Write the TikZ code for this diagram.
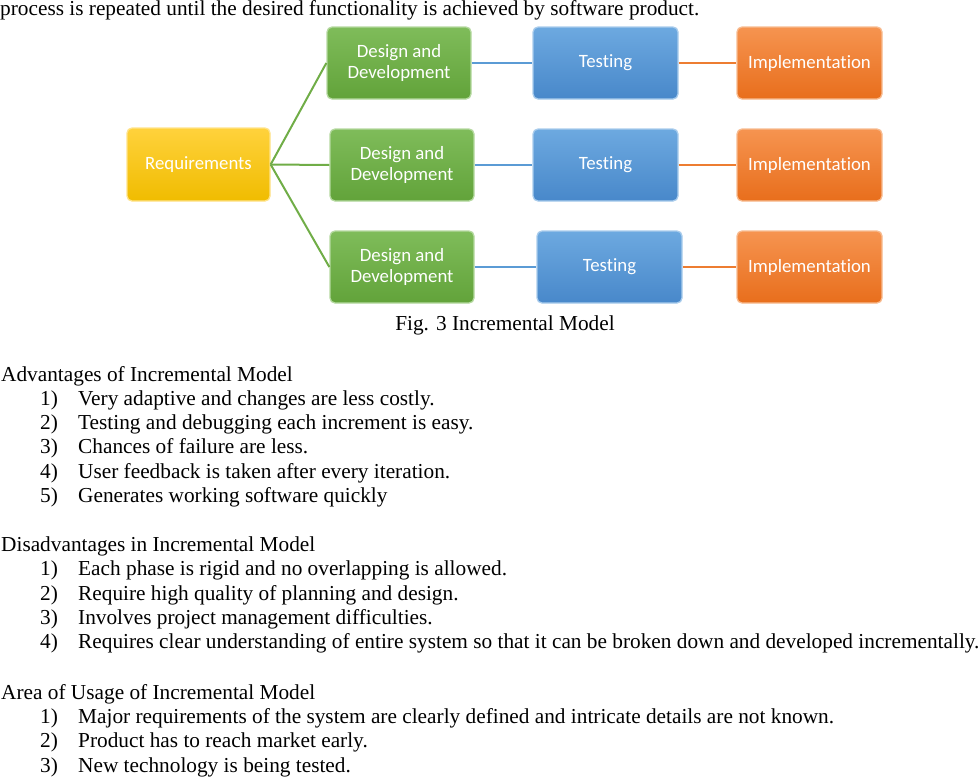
\documentclass[tikz,border=0pt]{standalone}
\usepackage{fontspec}
\setmainfont{Liberation Serif}
\newfontfamily\cajafont[Ligatures=NoCommon]{Carlito}
\definecolor{reqarriba}{HTML}{FFD23C}
\definecolor{reqabajo}{HTML}{F0BC00}
\definecolor{reqborde}{HTML}{FFE38A}
\definecolor{verdearriba}{HTML}{7FBC5A}
\definecolor{verdeabajo}{HTML}{62A33A}
\definecolor{verdeborde}{HTML}{B5D9A0}
\definecolor{azularriba}{HTML}{6DA9E0}
\definecolor{azulabajo}{HTML}{4888CA}
\definecolor{azulborde}{HTML}{A9CCEC}
\definecolor{narajaarriba}{HTML}{F69450}
\definecolor{narajaabajo}{HTML}{E86E1C}
\definecolor{narajaborde}{HTML}{F7BB90}
\definecolor{lineaverde}{HTML}{70AD47}
\definecolor{lineaazul}{HTML}{5B9BD5}
\definecolor{lineanaraja}{HTML}{ED7D31}
\begin{document}
\begin{tikzpicture}[x=1pt,y=-1pt,
	caja/.style={rounded corners=5pt, minimum width=144pt, minimum height=72pt, align=center, text=white, inner sep=2pt, line width=1.3pt, font=\cajafont\fontsize{18.8}{21.5}\selectfont},
	requisito/.style={caja, minimum width=143pt, minimum height=73pt, top color=reqarriba, bottom color=reqabajo, draw=reqborde},
	diseno/.style={caja, top color=verdearriba, bottom color=verdeabajo, draw=verdeborde},
	prueba/.style={caja, minimum width=145pt, top color=azularriba, bottom color=azulabajo, draw=azulborde},
	implem/.style={caja, minimum width=145pt, top color=narajaarriba, bottom color=narajaabajo, draw=narajaborde},
	texto/.style={anchor=base west, inner sep=0pt, font=\fontsize{21.3}{24}\selectfont}]
			\useasboundingbox (0,0) rectangle (980,777);
			
			% Texto de arriba
			\node[texto] (previo) at (0,15) {process is repeated until the desired functionality is achieved by software product.};
			
			% Cajas
			\node[requisito] (req) at (198.5,164.5) {Requirements};
			
			\node[diseno] (dis1) at (399,63) {Design and\\Development};
			\node[diseno] (dis2) at (402,165) {Design and\\Development};
			\node[diseno] (dis3) at (402,267) {Design and\\Development};
			
			\node[prueba] (prue1) at (605.5,63) {Testing};
			\node[prueba] (prue2) at (605.5,165) {Testing};
			\node[prueba] (prue3) at (609.5,267) {Testing};
			
			\node[implem] (imp1) at (809.5,63) {Implementation};
			\node[implem] (imp2) at (809.5,165) {Implementation};
			\node[implem] (imp3) at (809.5,267) {Implementation};
			
			% Lineas
			\draw[lineaverde, line width=2pt] (req.east) -- (dis1.west);
			\draw[lineaverde, line width=2pt] (req.east) -- (dis2.west);
			\draw[lineaverde, line width=2pt] (req.east) -- (dis3.west);
			\draw[lineaazul, line width=2pt] (dis1.east) -- (prue1.west);
			\draw[lineaazul, line width=2pt] (dis2.east) -- (prue2.west);
			\draw[lineaazul, line width=2pt] (dis3.east) -- (prue3.west);
			\draw[lineanaraja, line width=2pt] (prue1.east) -- (imp1.west);
			\draw[lineanaraja, line width=2pt] (prue2.east) -- (imp2.west);
			\draw[lineanaraja, line width=2pt] (prue3.east) -- (imp3.west);
			
			\node[texto, anchor=base] (figura) at (505,330) {Fig. 3 Incremental Model};
			
			% Ventajas
			\node[texto] (vent) at (1,381) {Advantages of Incremental Model};
			\node[texto] (vn1) at (40,405) {1)};
			\node[texto] (vt1) at (78,405) {Very adaptive and changes are less costly.};
			\node[texto] (vn2) at (40,429) {2)};
			\node[texto] (vt2) at (78,429) {Testing and debugging each increment is easy.};
			\node[texto] (vn3) at (40,453) {3)};
			\node[texto] (vt3) at (78,453) {Chances of failure are less.};
			\node[texto] (vn4) at (40,478) {4)};
			\node[texto] (vt4) at (78,478) {User feedback is taken after every iteration.};
			\node[texto] (vn5) at (40,502) {5)};
			\node[texto] (vt5) at (78,502) {Generates working software quickly};
			
			% Desventajas
			\node[texto] (desv) at (1,551) {Disadvantages in Incremental Model};
			\node[texto] (dn1) at (40,575) {1)};
			\node[texto] (dt1) at (78,575) {Each phase is rigid and no overlapping is allowed.};
			\node[texto] (dn2) at (40,600) {2)};
			\node[texto] (dt2) at (78,600) {Require high quality of planning and design.};
			\node[texto] (dn3) at (40,624) {3)};
			\node[texto] (dt3) at (78,624) {Involves project management difficulties.};
			\node[texto] (dn4) at (40,648) {4)};
			\node[texto] (dt4) at (78,648) {Requires clear understanding of entire system so that it can be broken down and developed incrementally.};
			
			% Area de uso
			\node[texto] (area) at (1,699) {Area of Usage of Incremental Model};
			\node[texto] (an1) at (40,723) {1)};
			\node[texto] (at1) at (78,723) {Major requirements of the system are clearly defined and intricate details are not known.};
			\node[texto] (an2) at (40,747) {2)};
			\node[texto] (at2) at (78,747) {Product has to reach market early.};
			\node[texto] (an3) at (40,772) {3)};
			\node[texto] (at3) at (78,772) {New technology is being tested.};
		\end{tikzpicture}
\end{document}
